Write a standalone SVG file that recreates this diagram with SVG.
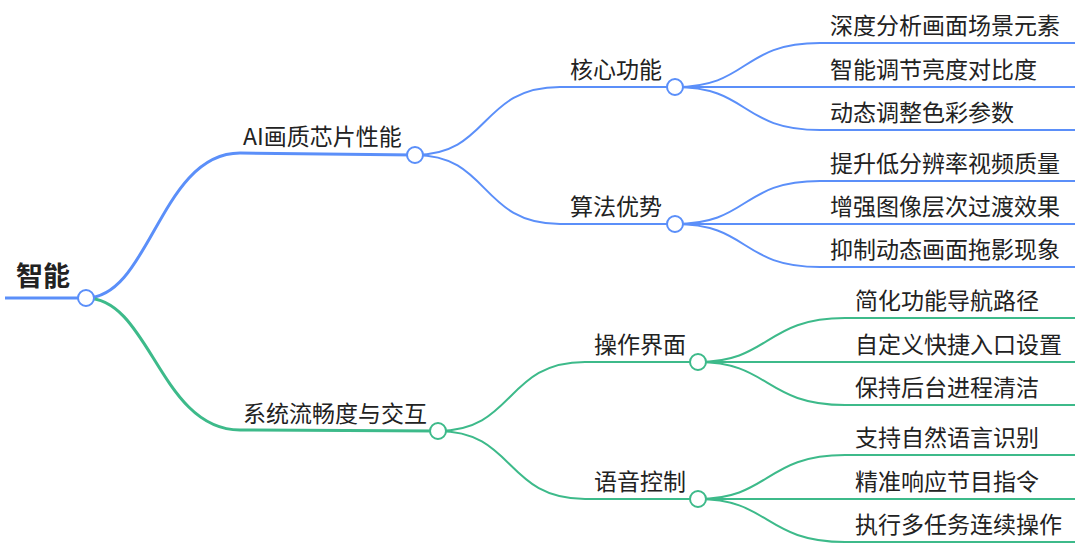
<svg xmlns="http://www.w3.org/2000/svg" width="1080" height="558" viewBox="0 0 1080 558">
<style>
text{font-family:"Noto Sans CJK SC","Noto Sans",sans-serif;font-size:23px;fill:#222}
.b{fill:none;stroke:#5b8ff9;stroke-width:2}
.g{fill:none;stroke:#3dba8a;stroke-width:2}
.cb{fill:#fff;stroke:#5b8ff9;stroke-width:2}
.cg{fill:#fff;stroke:#3dba8a;stroke-width:2}
</style>
<rect width="1080" height="558" fill="#fff"/>
<g id="connectors">
<path class="b" d="M86 298 C150 298 160 153 240 153 L415 155" style="stroke-width:3"/>
<path class="g" d="M86 298 C150 298 160 430 240 430 L438 431" style="stroke-width:3"/>
<path class="b" d="M415 155 C490 155 480 87 560 87 L675 87"/>
<path class="b" d="M415 155 C490 155 480 224 560 224 L675 224"/>
<path class="g" d="M438 431 C515 431 505 362 585 362 L698 362"/>
<path class="g" d="M438 431 C515 431 505 499 585 499 L698 499"/>
<path class="b" d="M675 87 C750 87 740 43 820 43 L1075 43"/>
<path class="b" d="M675 87 L1075 87"/>
<path class="b" d="M675 87 C750 87 740 130 820 130 L1075 130"/>
<path class="b" d="M675 224 C750 224 740 181 820 181 L1075 181"/>
<path class="b" d="M675 224 L1075 224"/>
<path class="b" d="M675 224 C750 224 740 267 820 267 L1075 267"/>
<path class="g" d="M698 362 C770 362 765 318 845 318 L1075 318"/>
<path class="g" d="M698 362 L1075 362"/>
<path class="g" d="M698 362 C770 362 765 405 845 405 L1075 405"/>
<path class="g" d="M698 499 C770 499 765 455 845 455 L1075 455"/>
<path class="g" d="M698 499 L1075 499"/>
<path class="g" d="M698 499 C770 499 765 542 845 542 L1075 542"/>
</g>
<g id="root"><line x1="5" y1="298" x2="86" y2="298" stroke="#5b8ff9" stroke-width="3"/><text x="16" y="286" style="font-size:27px;font-weight:bold">智能</text><circle class="cb" cx="86" cy="298" r="8"/></g>
<g id="n1"><text x="243" y="145">AI画质芯片性能</text><circle class="cb" cx="415" cy="155" r="8"/></g>
<g id="n2"><text x="243" y="422">系统流畅度与交互</text><circle class="cg" cx="438" cy="431" r="8"/></g>
<g id="n11"><text x="570" y="78">核心功能</text><circle class="cb" cx="675" cy="87" r="8"/></g>
<g id="n12"><text x="570" y="215">算法优势</text><circle class="cb" cx="675" cy="224" r="8"/></g>
<g id="n21"><text x="594" y="353">操作界面</text><circle class="cg" cx="698" cy="362" r="8"/></g>
<g id="n22"><text x="594" y="490">语音控制</text><circle class="cg" cx="698" cy="499" r="8"/></g>
<g id="leaves">
<text x="830" y="34">深度分析画面场景元素</text>
<text x="830" y="78">智能调节亮度对比度</text>
<text x="830" y="121">动态调整色彩参数</text>
<text x="830" y="172">提升低分辨率视频质量</text>
<text x="830" y="215">增强图像层次过渡效果</text>
<text x="830" y="258">抑制动态画面拖影现象</text>
<text x="855" y="309">简化功能导航路径</text>
<text x="855" y="353">自定义快捷入口设置</text>
<text x="855" y="396">保持后台进程清洁</text>
<text x="855" y="446">支持自然语言识别</text>
<text x="855" y="490">精准响应节目指令</text>
<text x="855" y="533">执行多任务连续操作</text>
</g>
</svg>
